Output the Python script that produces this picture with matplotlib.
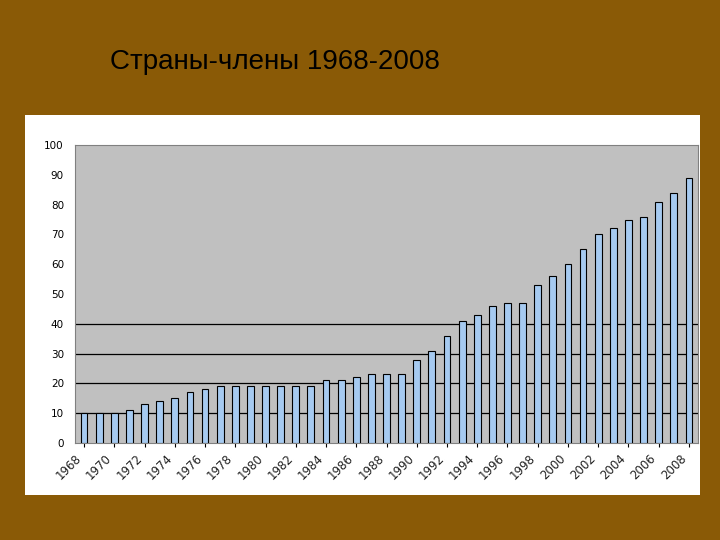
import matplotlib.pyplot as plt
import numpy as np

years = list(range(1968, 2009))
members = [10, 10, 10, 11, 13, 14, 15, 17, 18, 19, 19, 19,
           19, 19, 19, 19, 21, 21, 22, 23, 23, 23,
           28, 31, 36, 41, 43, 46, 47, 47, 53, 56,
           60, 65, 70, 72, 75, 76, 81, 84, 89]
grid_levels = [10, 20, 30, 40]

fig = plt.figure(figsize=(7.2, 5.4), dpi=100)
fig.patch.set_facecolor('#8a5a06')
fig.text(0.153, 0.885, 'Страны-члены 1968-2008', fontsize=20, color='black',
         family='Liberation Sans', va='center')

# white panel
panel = fig.add_axes([25/720, 1 - 495/540, 675/720, 380/540])
panel.set_facecolor('white')
panel.set_xticks([]); panel.set_yticks([])
for s in panel.spines.values():
    s.set_visible(False)

ax = fig.add_axes([75/720, 1 - 443/540, 623/720, 298/540])
ax.set_facecolor('#c0c0c0')
x = np.arange(len(years))
ax.bar(x, members, width=0.45, color='#a6caf0', edgecolor='black', linewidth=0.8, zorder=3)
ax.set_xlim(-0.6, len(years) - 0.4)
ax.set_ylim(0, 100)
ax.set_yticks(range(0, 101, 10))
for g in grid_levels:
    ax.axhline(g, color='black', linewidth=0.9, zorder=1)
ax.tick_params(axis='y', length=0, labelsize=7.5, pad=8)
ax.set_xticks(x[::2])
ax.set_xticklabels([str(y) for y in years[::2]], rotation=45, fontsize=8.5,
                   ha='right', va='top', family='DejaVu Sans', color='#222222')
ax.tick_params(axis='x', length=3)
for s in ax.spines.values():
    s.set_color('#808080')

fig.savefig('out.png', dpi=100, facecolor=fig.get_facecolor())
